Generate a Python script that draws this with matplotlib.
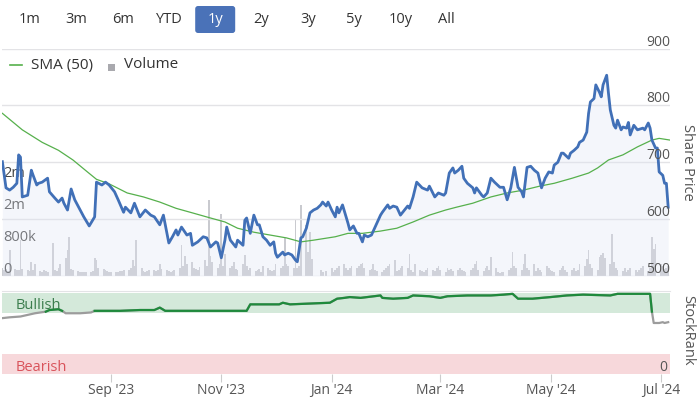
import matplotlib
matplotlib.use('Agg')
import matplotlib.pyplot as plt
from matplotlib.lines import Line2D
from matplotlib.patches import Rectangle, FancyBboxPatch
from matplotlib.transforms import offset_copy
import numpy as np
import pandas as pd

plt.rcParams['font.family'] = ['Open Sans', 'DejaVu Sans']

W, H = 698, 397
START = pd.Timestamp('2023-07-03')

# Share price (pence), days since START
price_days = [0, 2, 4, 6, 8, 9, 10, 11, 14, 16, 17, 19, 20, 22, 25, 26, 29, 31, 33, 34,
              36, 38, 40, 43, 45, 48, 51, 52, 55, 57, 59, 62, 64, 67, 68, 71, 73, 76, 79, 82,
              84, 87, 89, 92, 94, 96, 97, 99, 102, 104, 105, 108, 111, 113, 115, 118, 119, 121, 123, 124,
              126, 129, 130, 133, 134, 135, 137, 139, 141, 142, 144, 146, 148, 150, 151, 152, 155, 156, 158, 160,
              162, 163, 165, 166, 168, 170, 172, 174, 176, 177, 179, 180, 182, 184, 185, 186, 188, 191, 192, 194,
              196, 197, 199, 200, 202, 204, 206, 209, 210, 213, 214, 216, 218, 220, 221, 224, 225, 227, 229, 232,
              235, 236, 239, 241, 244, 245, 247, 249, 250, 252, 254, 255, 257, 260, 261, 262, 265, 266, 268, 270,
              272, 275, 277, 279, 281, 283, 285, 287, 288, 290, 292, 294, 296, 298, 300, 302, 304, 305, 307, 309,
              310, 313, 314, 316, 318, 319, 321, 323, 324, 325, 327, 328, 330, 331, 332, 334, 335, 336, 338, 339,
              340, 342, 343, 345, 346, 347, 349, 351, 354, 355, 357, 358, 359, 361, 362, 363, 365, 366, 367, 368]
price_vals = [701, 655, 651, 656, 663, 713, 709, 639, 642, 686, 677, 660, 663, 665, 672, 648, 637, 630, 637, 628,
              616, 653, 634, 616, 604, 588, 604, 665, 660, 665, 660, 648, 634, 612, 621, 611, 628, 604, 616, 607,
              604, 590, 607, 558, 569, 581, 572, 586, 572, 575, 554, 560, 569, 567, 551, 560, 558, 532, 563, 586,
              563, 551, 563, 554, 598, 602, 575, 607, 590, 590, 569, 563, 554, 560, 540, 533, 542, 537, 540, 537,
              528, 525, 567, 569, 584, 611, 616, 619, 625, 630, 623, 630, 616, 604, 621, 611, 625, 593, 581, 588,
              575, 575, 560, 572, 569, 572, 586, 607, 612, 625, 619, 623, 621, 607, 611, 623, 619, 639, 665, 655,
              651, 658, 639, 646, 642, 646, 681, 690, 681, 686, 693, 672, 663, 655, 646, 655, 642, 639, 646, 672,
              665, 656, 656, 634, 655, 691, 656, 648, 639, 691, 693, 686, 681, 655, 672, 683, 681, 695, 700, 716,
              716, 707, 716, 721, 727, 735, 739, 753, 786, 806, 812, 836, 823, 815, 836, 853, 821, 792, 765, 760,
              774, 757, 762, 760, 770, 748, 765, 757, 760, 757, 769, 760, 739, 725, 725, 683, 677, 663, 663, 621]

# 50-day simple moving average
sma_days = [0, 11, 22, 31, 39, 47, 52, 59, 69, 78, 87, 96, 105, 115, 123, 130, 139, 148, 157, 165,
            172, 184, 191, 199, 209, 218, 227, 236, 245, 251, 260, 270, 279, 288, 297, 305, 315, 324, 329, 335,
            343, 351, 359, 363, 369]
sma_vals = [786, 757, 735, 721, 704, 683, 670, 662, 646, 639, 630, 619, 611, 602, 595, 584, 577, 572, 567, 560,
            563, 569, 575, 575, 579, 584, 595, 607, 616, 621, 628, 639, 646, 651, 658, 663, 672, 681, 690, 704,
            713, 727, 739, 742, 739]

# StockRank
rank_days = [0, 4, 10, 18, 24, 26, 31, 33, 35, 43, 49, 51, 65, 76, 84, 87, 90, 98, 109, 135,
             137, 142, 153, 155, 159, 170, 181, 185, 189, 192, 198, 209, 210, 216, 224, 227, 236, 242, 246, 257,
             270, 277, 282, 285, 293, 303, 312, 321, 336, 340, 358, 359, 360, 363, 365, 366, 368]
rank_vals = [69, 70, 71, 75, 77, 79, 80, 78, 75, 75, 76, 78, 78, 79, 79, 82, 78, 78, 78, 78,
             86, 86, 86, 88, 86, 87, 88, 93, 94, 95, 94, 97, 94, 93, 94, 97, 96, 94, 96, 97,
             97, 98, 99, 93, 93, 95, 97, 98, 97, 99, 99, 77, 63, 63, 64, 63, 64]

# Daily volume (thousands of shares), one bar per trading day
volume_k = [200, 150, 180, 120, 650, 180, 160, 150, 900, 170,
            150, 120, 350, 140, 300, 120, 100, 150, 130, 110,
            825, 140, 120, 200, 300, 450, 650, 975, 180, 150,
            120, 110, 100, 110, 90, 100, 130, 450, 400, 200,
            180, 150, 120, 90, 110, 100, 110, 120, 130, 150,
            140, 200, 400, 250, 900, 200, 120, 110, 130, 140,
            150, 130, 160, 300, 180, 150, 120, 100, 130, 150,
            200, 780, 250, 500, 300, 350, 200, 180, 150, 220,
            400, 250, 1900, 500, 350, 200, 300, 1550, 250, 550,
            200, 250, 350, 180, 150, 300, 520, 250, 150, 200,
            120, 150, 180, 100, 250, 200, 150, 120, 150, 300,
            200, 250, 950, 300, 250, 200, 1400, 200, 250, 1770,
            1270, 600, 1100, 420, 0, 0, 150, 100, 0, 120,
            200, 100, 150, 200, 250, 300, 200, 150, 200, 250,
            200, 250, 300, 320, 200, 150, 180, 300, 150, 120,
            100, 150, 200, 250, 300, 400, 120, 150, 200, 250,
            200, 560, 150, 100, 300, 150, 120, 100, 150, 200,
            150, 120, 200, 250, 150, 100, 200, 150, 180, 120,
            150, 200, 150, 120, 100, 150, 200, 300, 375, 150,
            120, 200, 250, 150, 475, 200, 100, 80, 90, 100,
            150, 200, 600, 250, 200, 150, 300, 540, 200, 150,
            300, 120, 200, 150, 100, 250, 200, 150, 120, 100,
            150, 200, 250, 150, 100, 150, 200, 120, 150, 300,
            250, 430, 640, 300, 200, 150, 475, 525, 575, 450,
            300, 1040, 350, 200, 150, 120, 200, 100, 150, 200,
            150, 100, 150, 200, 250, 120, 200, 975, 675, 810,
            300, 250, 180, 200, 250]

range_buttons = ['1m', '3m', '6m', 'YTD', '1y', '2y', '3y', '5y', '10y', 'All']
selected_button = '1y'
price_ticks = [500, 600, 700, 800, 900]
vol_ticks = [0, 800e3, 1.6e6, 2.4e6]
vol_tick_labels = ['0', '800k', '2m', '2m']
month_ticks = ['2023-09-01', '2023-11-01', '2024-01-01', '2024-03-01', '2024-05-01', '2024-07-01']
month_labels = ["Sep '23", "Nov '23", "Jan '24", "Mar '24", "May '24", "Jul '24"]

PRICE_BLUE = '#4170b7'
SMA_GREEN = '#56b04c'
RANK_GREEN = '#1f8a3c'
RANK_GREY = '#9c9c9c'
TEXT = '#555555'


def fx(px):
    return px / W


def fy(py):
    return 1 - py / H


def to_dates(days):
    return START + pd.to_timedelta(np.asarray(days, dtype=float), unit='D')


fig = plt.figure(figsize=(W / 100, H / 100), dpi=100)

left, right = fx(2), fx(670)
price_rect = [left, fy(276), right - left, (276 - 48.5) / H]
rank_rect = [left, fy(374), right - left, (374 - 291) / H]
xlim = (START - pd.Timedelta(hours=5), START + pd.Timedelta(days=369))

# volume underneath the price panel
ax_vol = fig.add_axes(price_rect, zorder=0)
vol_dates = pd.bdate_range(START, periods=len(volume_k))
ax_vol.bar(vol_dates, np.array(volume_k) * 1000, width=1.0, color='#c9cacf', linewidth=0)
ax_vol.set_ylim(0, 2.4e6 * 227.5 / 96)
ax_vol.set_xlim(xlim)
ax_vol.axis('off')
vol_tr = offset_copy(ax_vol.get_yaxis_transform(), fig=fig, x=0, y=3, units='dots')
for v, lab in zip(vol_ticks, vol_tick_labels):
    ax_vol.text(0.002, v, lab, transform=vol_tr, ha='left', va='baseline',
                fontsize=10.5, color='#444444', zorder=5)

# price panel
ax = fig.add_axes(price_rect, zorder=1)
ax.patch.set_alpha(0)
p_dates = to_dates(price_days)
ax.fill_between(p_dates, price_vals, 500, color='#dfe5f3', alpha=0.32, lw=0)
ax.plot(to_dates(sma_days), sma_vals, color=SMA_GREEN, lw=0.9)
ax.plot(p_dates, price_vals, color=PRICE_BLUE, lw=2.0, solid_joinstyle='round')
ax.set_xlim(xlim)
ax.set_ylim(500, 900)
ax.set_yticks(price_ticks)
ax.grid(axis='y', color='#e3e3e6', lw=1)
ax.set_axisbelow(True)
ax.tick_params(left=False, bottom=False, labelleft=False, labelbottom=False)
for s in ax.spines.values():
    s.set_visible(False)
price_tr = offset_copy(ax.get_yaxis_transform(), fig=fig, x=0, y=3, units='dots')
for t in price_ticks:
    ax.text(1.0, t, str(t), transform=price_tr, ha='right', va='baseline',
            fontsize=10, color=TEXT)

# StockRank panel
axr = fig.add_axes(rank_rect)
axr.axhspan(75, 100, color='#d4e9da', lw=0)
axr.axhspan(0, 25, color='#f7d8db', lw=0)
r_dates = to_dates(rank_days)
r_vals = np.array(rank_vals, dtype=float)
axr.plot(r_dates, r_vals, color=RANK_GREY, lw=1.6)
axr.plot(r_dates, np.where(r_vals >= 77, r_vals, np.nan), color=RANK_GREEN, lw=1.6)
axr.set_xlim(xlim)
axr.set_ylim(0, 102.5)
axr.set_yticks([])
axr.set_xticks(pd.to_datetime(month_ticks))
axr.set_xticklabels(month_labels)
axr.tick_params(axis='x', length=6, color='#cccccc', labelcolor=TEXT, labelsize=10, pad=0.5)
for name, s in axr.spines.items():
    s.set_visible(name == 'top')
axr.spines['top'].set_color('#e3e3e6')
axr.text(0.02, 85, 'Bullish', transform=axr.get_yaxis_transform(), ha='left', va='center',
         fontsize=10.5, color='#3b7d4d')
axr.text(0.02, 8, 'Bearish', transform=axr.get_yaxis_transform(), ha='left', va='center',
         fontsize=10.5, color='#d9535b')
rank_tr = offset_copy(axr.get_yaxis_transform(), fig=fig, x=-3, y=3, units='dots')
axr.text(1.0, 0, '0', transform=rank_tr, ha='right', va='baseline', fontsize=10, color=TEXT)

# axis titles on the right
fig.text(fx(688), fy(162), 'Share Price', rotation=270, ha='center', va='center',
         fontsize=10.5, color=TEXT)
fig.text(fx(688), fy(330), 'StockRank', rotation=270, ha='center', va='center',
         fontsize=10.5, color=TEXT)

# range selector buttons
for i, lab in enumerate(range_buttons):
    cx = 30 + 46.3 * i
    if lab == selected_button:
        fig.add_artist(FancyBboxPatch((fx(cx - 20), fy(33)), 40 / W, 27 / H,
                                      boxstyle='round,pad=0,rounding_size=0.004',
                                      mutation_aspect=W / H, fc='#4a72b8', ec='none'))
        col = 'white'
    else:
        col = '#333333'
    fig.text(fx(cx), fy(19.5), lab, ha='center', va='center', fontsize=10.5, color=col)

# legend
fig.add_artist(Line2D([fx(10), fx(22)], [fy(65), fy(65)], color=SMA_GREEN, lw=1.2))
fig.text(fx(31), fy(65), 'SMA (50)', ha='left', va='center', fontsize=11, color='#333333')
fig.add_artist(Rectangle((fx(108), fy(71)), 7 / W, 7 / H, fc='#a9a9ae', ec='none'))
fig.text(fx(124), fy(65), 'Volume', ha='left', va='center', fontsize=11, color='#333333')

fig.savefig('out.png', dpi=100)
